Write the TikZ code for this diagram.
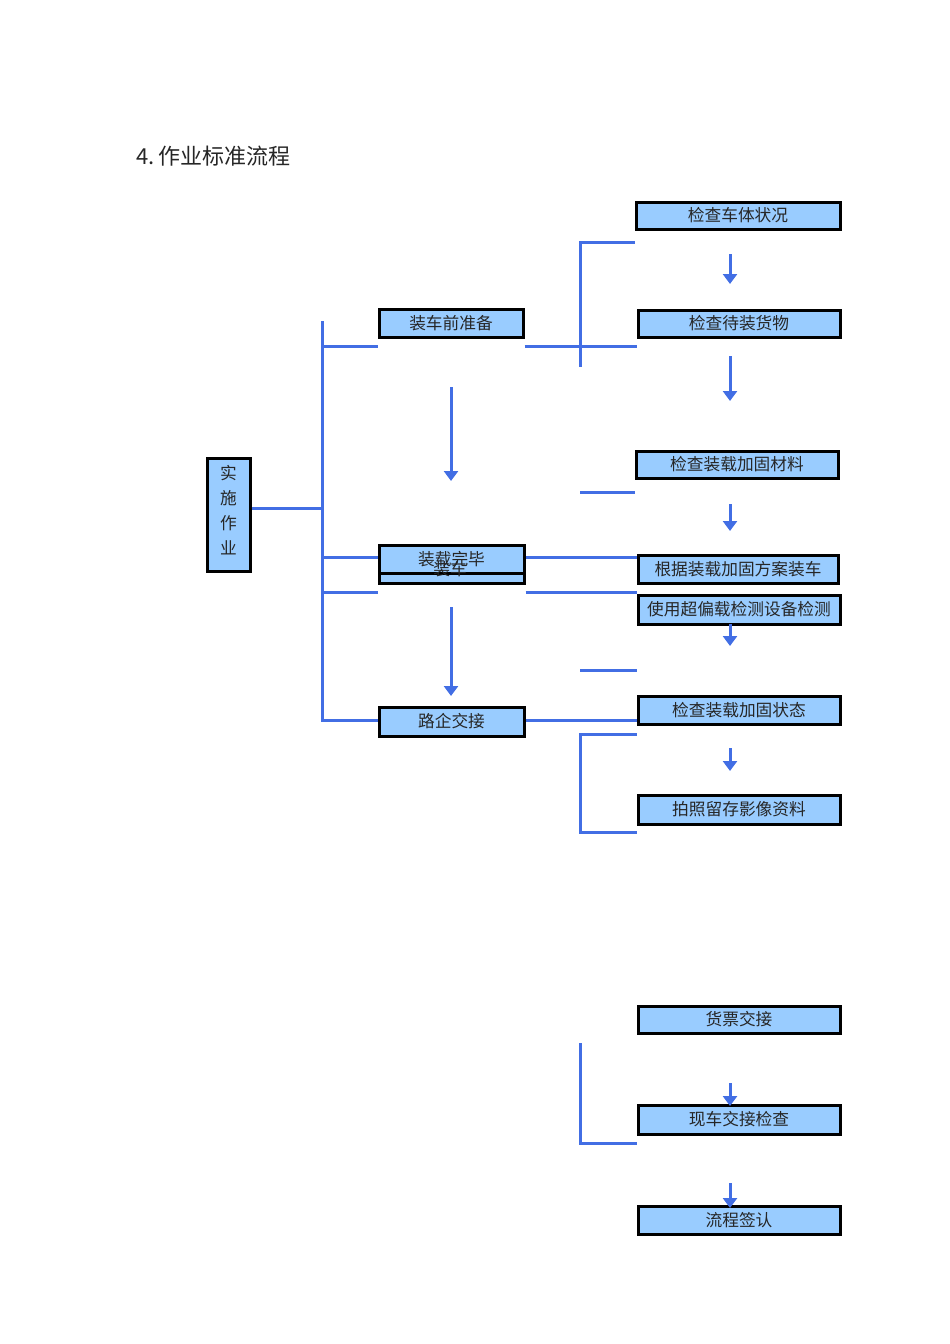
\documentclass[tikz,border=0pt]{standalone}
\usepackage{fontspec}
\newfontfamily\cjk{Noto Sans CJK SC}
\usetikzlibrary{arrows.meta}
\definecolor{boxfill}{RGB}{153,204,255}
\definecolor{lineblue}{RGB}{66,110,228}
\tikzset{
  box/.style={draw=black, line width=3pt, fill=boxfill, inner sep=0pt, font=\cjk\fontsize{16.7}{17}\selectfont, text=black!85},
  boxtext/.style={font=\cjk\fontsize{16.7}{17}\selectfont, text=black!85, inner sep=0pt},
  bl/.style={draw=lineblue, line width=3pt},
  arr/.style={draw=lineblue, line width=3pt, -{Triangle[width=14pt,length=10pt]}},
}
\begin{document}
\begin{tikzpicture}[x=1pt,y=-1pt]
\useasboundingbox (0,0) rectangle (950,1344);
% title
\node[anchor=west, font=\cjk\fontsize{22}{24}\selectfont, text=black!85] (title) at (133,156) {4.\,作业标准流程};

% root
\node[box, minimum width=43pt, minimum height=113pt] (root) at (228.5,514.5) {};
\node[boxtext, align=center, font=\cjk\fontsize{16.7}{25}\selectfont] (rootT) at (228.5,510.5) {实\\施\\作\\业};

% middle column
\node[box, minimum width=144pt, minimum height=28pt] (p1) at (451,323) {装车前准备};
\node[box, minimum width=145pt, minimum height=34pt] (p2b) at (451.5,566) {};
\node[box, minimum width=145pt, minimum height=28pt] (p2) at (451.5,559) {};
\node[boxtext] (p2t) at (451.5,559) {装载完毕};
\node[boxtext] (p2bt) at (450,569) {装车};
\node[box, minimum width=145pt, minimum height=29pt] (p3) at (451.5,721.5) {路企交接};

% right column
\node[box, minimum width=204pt, minimum height=27pt] (b1) at (738,215.5) {检查车体状况};
\node[box, minimum width=202pt, minimum height=27pt] (b2) at (739,323.5) {检查待装货物};
\node[box, minimum width=202pt, minimum height=27pt] (b3) at (737,464.5) {检查装载加固材料};
\node[box, minimum width=200pt, minimum height=28pt] (b4) at (738,569) {根据装载加固方案装车};
\node[box, minimum width=202pt, minimum height=29pt] (b5) at (739,609.5) {使用超偏载检测设备检测};
\node[box, minimum width=202pt, minimum height=28pt] (b6) at (739,710) {检查装载加固状态};
\node[box, minimum width=202pt, minimum height=29pt] (b7) at (739,809.5) {拍照留存影像资料};
\node[box, minimum width=202pt, minimum height=27pt] (b8) at (739,1019.5) {货票交接};
\node[box, minimum width=202pt, minimum height=29pt] (b9) at (739,1119.5) {现车交接检查};
\node[box, minimum width=202pt, minimum height=28pt] (b10) at (739,1220) {流程签认};

% coordinates
\coordinate (tT) at (322,321);
\coordinate (tB) at (322,720);
\coordinate (jR) at (322,508);
\coordinate (j1) at (322,346);
\coordinate (j2) at (322,557);
\coordinate (j3) at (322,592);
\coordinate (c720) at (580,720);
\coordinate (k1t) at (580,242);
\coordinate (k1b) at (580,367);
\coordinate (k2) at (580,492);
\coordinate (k3) at (580,670);
\coordinate (k4t) at (580,734);
\coordinate (k4b) at (580,832);
\coordinate (k5t) at (580,1043);
\coordinate (k5b) at (580,1143);

% trunk
\draw[bl] (tT) -- (tB) -- (p3.west |- tB);
\draw[bl] (root.east |- jR) -- (jR);
\draw[bl] (j1) -- (p1.west |- j1);
\draw[bl] (p1.east |- j1) -- (b2.west |- j1);
\draw[bl] (j2) -- (p2.west |- j2);
\draw[bl] (p2.east |- j2) -- (b4.west |- j2);
\draw[bl] (j3) -- (p2.west |- j3);
\draw[bl] (p2.east |- j3) -- (b5.west |- j3);
\draw[bl] (p3.east |- c720) -- (b6.west |- c720);
% brackets and stubs
\draw[bl] (b1.west |- k1t) -- (k1t) -- (k1b);
\draw[bl] (k2) -- (b3.west |- k2);
\draw[bl] (k3) -- (b5.west |- k3);
\draw[bl] (b6.west |- k4t) -- (k4t) -- (k4b) -- (b7.west |- k4b);
\draw[bl] (k5t) -- (k5b) -- (b9.west |- k5b);

% arrows
\coordinate (a1s) at (730,254); \coordinate (a1e) at (730,284);
\coordinate (a2s) at (730,356); \coordinate (a2e) at (730,401);
\coordinate (a3s) at (451,387); \coordinate (a3e) at (451,481);
\coordinate (a4s) at (730,504); \coordinate (a4e) at (730,531);
\coordinate (a5s) at (730,624); \coordinate (a5e) at (730,646);
\coordinate (a6s) at (451,607); \coordinate (a6e) at (451,696);
\coordinate (a7s) at (730,748); \coordinate (a7e) at (730,771);
\coordinate (a8s) at (730,1083); \coordinate (a8e) at (730,1106);
\coordinate (a9s) at (730,1183); \coordinate (a9e) at (730,1208);
\draw[arr] (a1s) -- (a1e);
\draw[arr] (a2s) -- (a2e);
\draw[arr] (a3s) -- (a3e);
\draw[arr] (a4s) -- (a4e);
\draw[arr] (a5s) -- (a5e);
\draw[arr] (a6s) -- (a6e);
\draw[arr] (a7s) -- (a7e);
\draw[arr] (a8s) -- (a8e);
\draw[arr] (a9s) -- (a9e);
\end{tikzpicture}
\end{document}
